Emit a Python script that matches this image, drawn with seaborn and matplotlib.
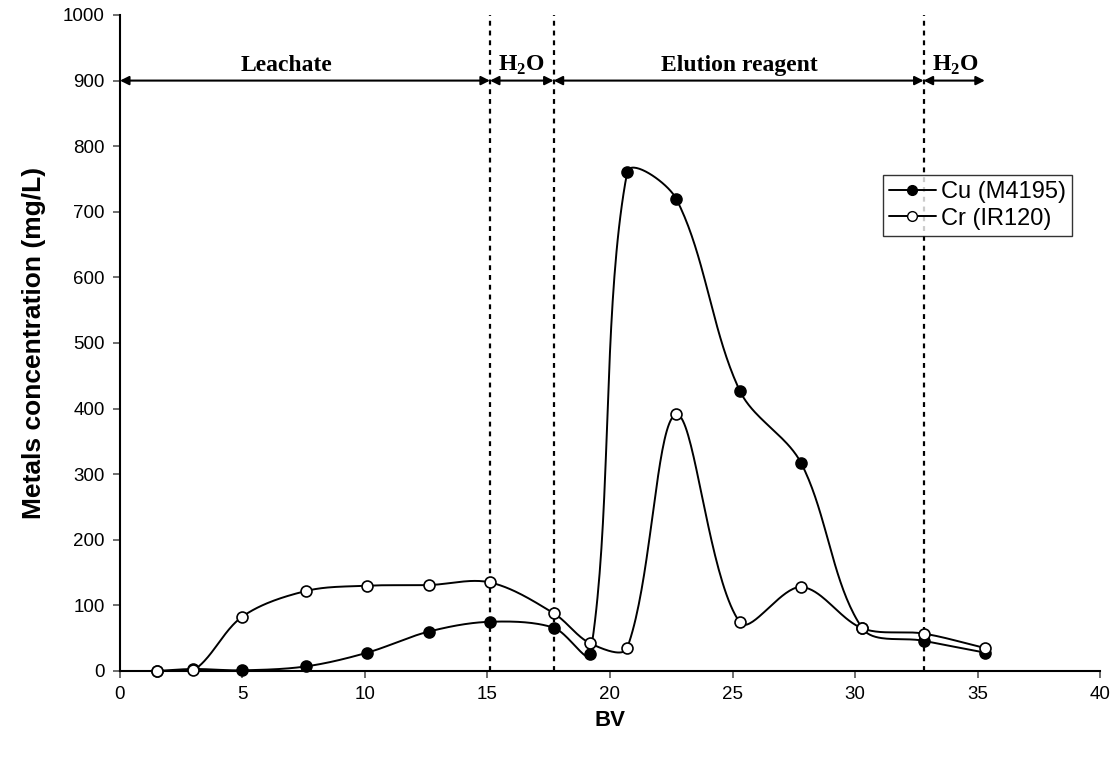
import numpy as np
import pandas as pd
import matplotlib
matplotlib.use("Agg")
import matplotlib.pyplot as plt
import seaborn as sns
from matplotlib.lines import Line2D

# Bed volumes and metal concentrations (mg/L)
bv = [1.5, 3.0, 5.0, 7.6, 10.1, 12.6, 15.1, 17.7, 19.2, 20.7, 22.7, 25.3, 27.8, 30.3, 32.8, 35.3]
cu_m4195 = [0, 3, 1, 7, 28, 60, 75, 66, 26, 760, 720, 427, 317, 65, 46, 28]
cr_ir120 = [0, 1, 83, 122, 130, 131, 135, 88, 42, 35, 391, 74, 128, 65, 57, 35]

series_names = ["Cu (M4195)", "Cr (IR120)"]

# Process stages along the BV axis
stage_bounds = [0.0, 15.1, 17.7, 32.8, 35.3]
stage_labels = ["Leachate", r"H$_\mathbf{2}$O", "Elution reagent", r"H$_\mathbf{2}$O"]
stage_label_x = [6.8, 16.4, 25.3, 34.1]
divider_x = [15.1, 17.7, 32.8]

sns.set_theme(style="white")
plt.rcParams["font.family"] = ["Liberation Sans", "DejaVu Sans"]
plt.rcParams["text.color"] = "black"
plt.rcParams["axes.labelcolor"] = "black"
plt.rcParams["mathtext.fontset"] = "custom"
plt.rcParams["mathtext.bf"] = "Liberation Serif:bold"
plt.rcParams["mathtext.rm"] = "Liberation Serif:bold"

fig = plt.figure(figsize=(11.17, 7.61), dpi=100)
ax = fig.add_axes([0.1074, 0.1183, 0.8774, 0.862])
ax.set_xlim(0, 40)
ax.set_ylim(0, 1000)


def smooth_curve(ax, xs, ys, n=40):
    """Bezier smoothing through the points, built in display space."""
    pts = ax.transData.transform(np.column_stack([xs, ys]))
    out = []
    m = len(pts)
    t = np.linspace(0, 1, n)[:, None]
    for i in range(m - 1):
        p0 = pts[i - 1] if i > 0 else pts[i]
        p1 = pts[i]
        p2 = pts[i + 1]
        p3 = pts[i + 2] if i + 2 < m else pts[i + 1]
        d01 = np.hypot(*(p1 - p0))
        d12 = np.hypot(*(p2 - p1))
        d23 = np.hypot(*(p3 - p2))
        w1 = d12 / (d01 + d12) / 3 if (d01 + d12) > 0 else 0
        w2 = d12 / (d12 + d23) / 3 if (d12 + d23) > 0 else 0
        c1 = p1 + (p2 - p0) * w1
        c2 = p2 - (p3 - p1) * w2
        seg = ((1 - t) ** 3) * p1 + 3 * ((1 - t) ** 2) * t * c1 + 3 * (1 - t) * t ** 2 * c2 + t ** 3 * p2
        out.append(seg if i == 0 else seg[1:])
    dense = np.vstack(out)
    data = ax.transData.inverted().transform(dense)
    return data[:, 0], data[:, 1]


styles = [
    dict(values=cu_m4195, face="black"),
    dict(values=cr_ir120, face="white"),
]

for name, st in zip(series_names, styles):
    sx, sy = smooth_curve(ax, bv, st["values"])
    curve = pd.DataFrame({"BV": sx, "conc": sy})
    sns.lineplot(data=curve, x="BV", y="conc", sort=False, color="black",
                 linewidth=1.4, ax=ax, legend=False, zorder=3)
    pts = pd.DataFrame({"BV": bv, "conc": st["values"]})
    sns.scatterplot(data=pts, x="BV", y="conc", ax=ax, s=62, marker="o",
                    facecolor=st["face"], edgecolor="black", linewidth=1.2,
                    legend=False, zorder=4, clip_on=False)

# Stage dividers
for xv in divider_x:
    ax.axvline(xv, color="black", linestyle=(0, (2.2, 2.2)), linewidth=1.6, zorder=2)

# Stage arrows and labels
for a, b in zip(stage_bounds[:-1], stage_bounds[1:]):
    ax.annotate("", xy=(b, 900), xytext=(a, 900),
                arrowprops=dict(arrowstyle="<|-|>", color="black", lw=1.5,
                                mutation_scale=13, shrinkA=0, shrinkB=0))
for lx, lab in zip(stage_label_x, stage_labels):
    ax.text(lx, 923, lab, ha="center", va="center", fontsize=17,
            fontweight="bold", family=["Liberation Serif", "DejaVu Serif"])

ax.set_xticks(np.arange(0, 41, 5))
ax.set_yticks(np.arange(0, 1001, 100))
ax.tick_params(axis="both", which="major", direction="out", length=5, width=1.2,
               color="#555555", labelsize=13.5, labelcolor="black", pad=6,
               bottom=True, left=True)
for side in ["top", "right"]:
    ax.spines[side].set_visible(False)
for side in ["left", "bottom"]:
    ax.spines[side].set_color("black")
    ax.spines[side].set_linewidth(1.5)

ax.set_xlabel("BV", fontsize=16, fontweight="bold", color="black", labelpad=5)
ax.set_ylabel("Metals concentration (mg/L)", fontsize=19, fontweight="bold",
              color="black", labelpad=12)

handles = [
    Line2D([], [], color="black", lw=1.4, marker="o", markersize=7,
           markerfacecolor="black", markeredgecolor="black"),
    Line2D([], [], color="black", lw=1.4, marker="o", markersize=7,
           markerfacecolor="white", markeredgecolor="black"),
]
leg = ax.legend(handles, series_names, loc="upper right",
                bbox_to_anchor=(0.971, 0.756), fontsize=17, frameon=True,
                fancybox=False, edgecolor="black", handlelength=2.0,
                handletextpad=0.2, borderpad=0.25, labelspacing=0.2,
                borderaxespad=0)
leg.get_frame().set_linewidth(1.0)
for txt in leg.get_texts():
    txt.set_color("black")

fig.savefig("out.png", dpi=100)
